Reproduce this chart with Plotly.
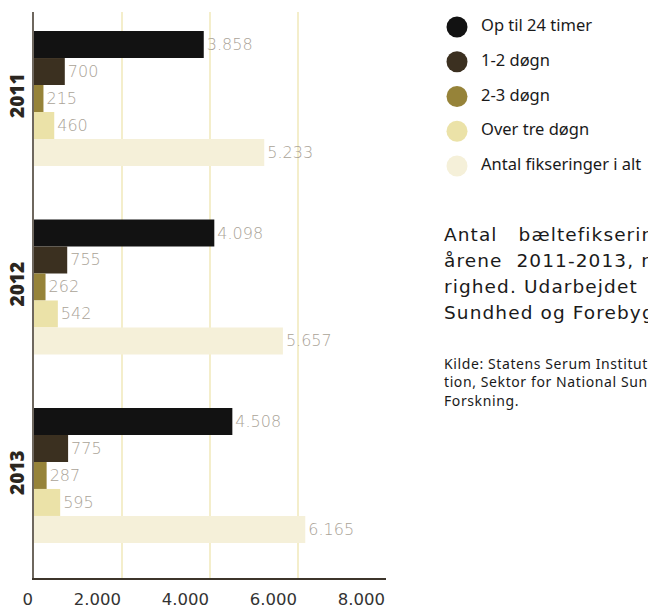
import plotly.graph_objects as go

years = ["2011", "2012", "2013"]
series_names = ["Op til 24 timer", "1-2 døgn", "2-3 døgn", "Over tre døgn", "Antal fikseringer i alt"]
series_values = [
    [3858, 4098, 4508],
    [700, 755, 775],
    [215, 262, 287],
    [460, 542, 595],
    [5233, 5657, 6165],
]
series_colors = ["#121212", "#3b3020", "#968339", "#ebe2a8", "#f5f0d9"]
tick_vals = [0, 2000, 4000, 6000, 8000]
tick_labels = ["0", "2.000", "4.000", "6.000", "8.000"]

# the page body has an 8px margin; the figure is sized to fill the rest
W, H = 648, 601
OFF = 8

def fmt(v):
    return f"{v:,}".replace(",", ".")

fig = go.Figure()
for name, vals, col in zip(series_names, series_values, series_colors):
    fig.add_trace(go.Bar(
        y=years, x=vals, orientation="h", name=name,
        marker=dict(color=col, line=dict(width=0)),
        text=[fmt(v) for v in vals], textposition="outside",
        textfont=dict(family="DejaVu Sans", size=16, color="#aaa397", weight=200),
        cliponaxis=False, showlegend=False,
    ))

# legend drawn as marker + text traces on their own axes
legend_rows = list(range(len(series_names)))
fig.add_trace(go.Scatter(
    x=[0] * len(series_names), y=legend_rows, xaxis="x2", yaxis="y2",
    mode="markers",
    marker=dict(color=series_colors, size=21, symbol="circle", line=dict(width=0)),
    showlegend=False, hoverinfo="skip", cliponaxis=False,
))
fig.add_trace(go.Scatter(
    x=[24] * len(series_names), y=legend_rows, xaxis="x2", yaxis="y2",
    mode="text", text=series_names, textposition="middle right",
    textfont=dict(family="Noto Sans", size=16.5, color="#1a1a1a"),
    showlegend=False, hoverinfo="skip", cliponaxis=False,
))

def sx(x):
    return (x - OFF) / W

def sy(y):
    return 1 - (y - OFF) / H

fig.update_layout(
    width=W, height=H,
    margin=dict(l=0, r=0, t=0, b=0, autoexpand=False),
    paper_bgcolor="white", plot_bgcolor="rgba(0,0,0,0)",
    barmode="group", bargap=0.284, bargroupgap=0,
    showlegend=False,
    xaxis=dict(
        domain=[sx(34), sx(386)], anchor="y",
        range=[0, 8000], tickvals=tick_vals, ticktext=tick_labels,
        showgrid=True, gridcolor="#f4eecb", gridwidth=1.5,
        zeroline=False, showline=True, linecolor="#3d352b", linewidth=2,
        tickfont=dict(family="DejaVu Sans", size=16.5, color="#333333"),
        ticks="", ticklabelposition="outside left", ticklabelstandoff=5,
        automargin=False,
    ),
    yaxis=dict(
        domain=[sy(578), sy(12)], anchor="x",
        type="category", range=[2.544, -0.459],
        showgrid=False, zeroline=False, showline=True, linecolor="#6e675e", linewidth=2,
        tickangle=-90, ticks="", automargin=False, ticklabelstandoff=0,
        tickfont=dict(family="Open Sans", size=19, color="#2b2620", weight=800),
    ),
    xaxis2=dict(
        domain=[sx(446), 1], anchor="y2", range=[-11, 199],
        visible=False, fixedrange=True,
    ),
    yaxis2=dict(
        domain=[sy(190), 1], anchor="x2", range=[4.69, -0.547],
        visible=False, fixedrange=True,
    ),
)

LS = "letter-spacing:1.1px"
para = [
    "Antal&nbsp;&nbsp;&nbsp;bæltefikseringer&nbsp;&nbsp;&nbsp;fordelt&nbsp;&nbsp;&nbsp;på",
    "årene&nbsp;&nbsp;2011-2013,&nbsp;rangeret&nbsp;&nbsp;efter&nbsp;&nbsp;va-",
    "righed.&nbsp;Udarbejdet&nbsp;&nbsp;af&nbsp;&nbsp;Statens&nbsp;&nbsp;Institut&nbsp;&nbsp;for",
    "Sundhed og Forebyggelse.",
]
for i, line in enumerate(para):
    fig.add_annotation(
        x=sx(443), y=sy(234 + i * 26), xref="paper", yref="paper",
        text=f'<span style="{LS}">{line}</span>', showarrow=False,
        xanchor="left", yanchor="middle",
        font=dict(family="DejaVu Sans", size=18.5, color="#1a1a1a"),
        borderpad=0,
    )

kilde = [
    "Kilde: Statens Serum Institut, Sektor for Sundhedsdokumenta-",
    "tion, Sektor for National Sundhedsdokumentation og",
    "Forskning.",
]
for i, line in enumerate(kilde):
    fig.add_annotation(
        x=sx(443), y=sy(363 + i * 18.5), xref="paper", yref="paper",
        text=f'<span style="letter-spacing:0.6px">{line}</span>', showarrow=False,
        xanchor="left", yanchor="middle",
        font=dict(family="Noto Sans", size=14, color="#1a1a1a"),
        borderpad=0,
    )

fig.write_html("out.html")
